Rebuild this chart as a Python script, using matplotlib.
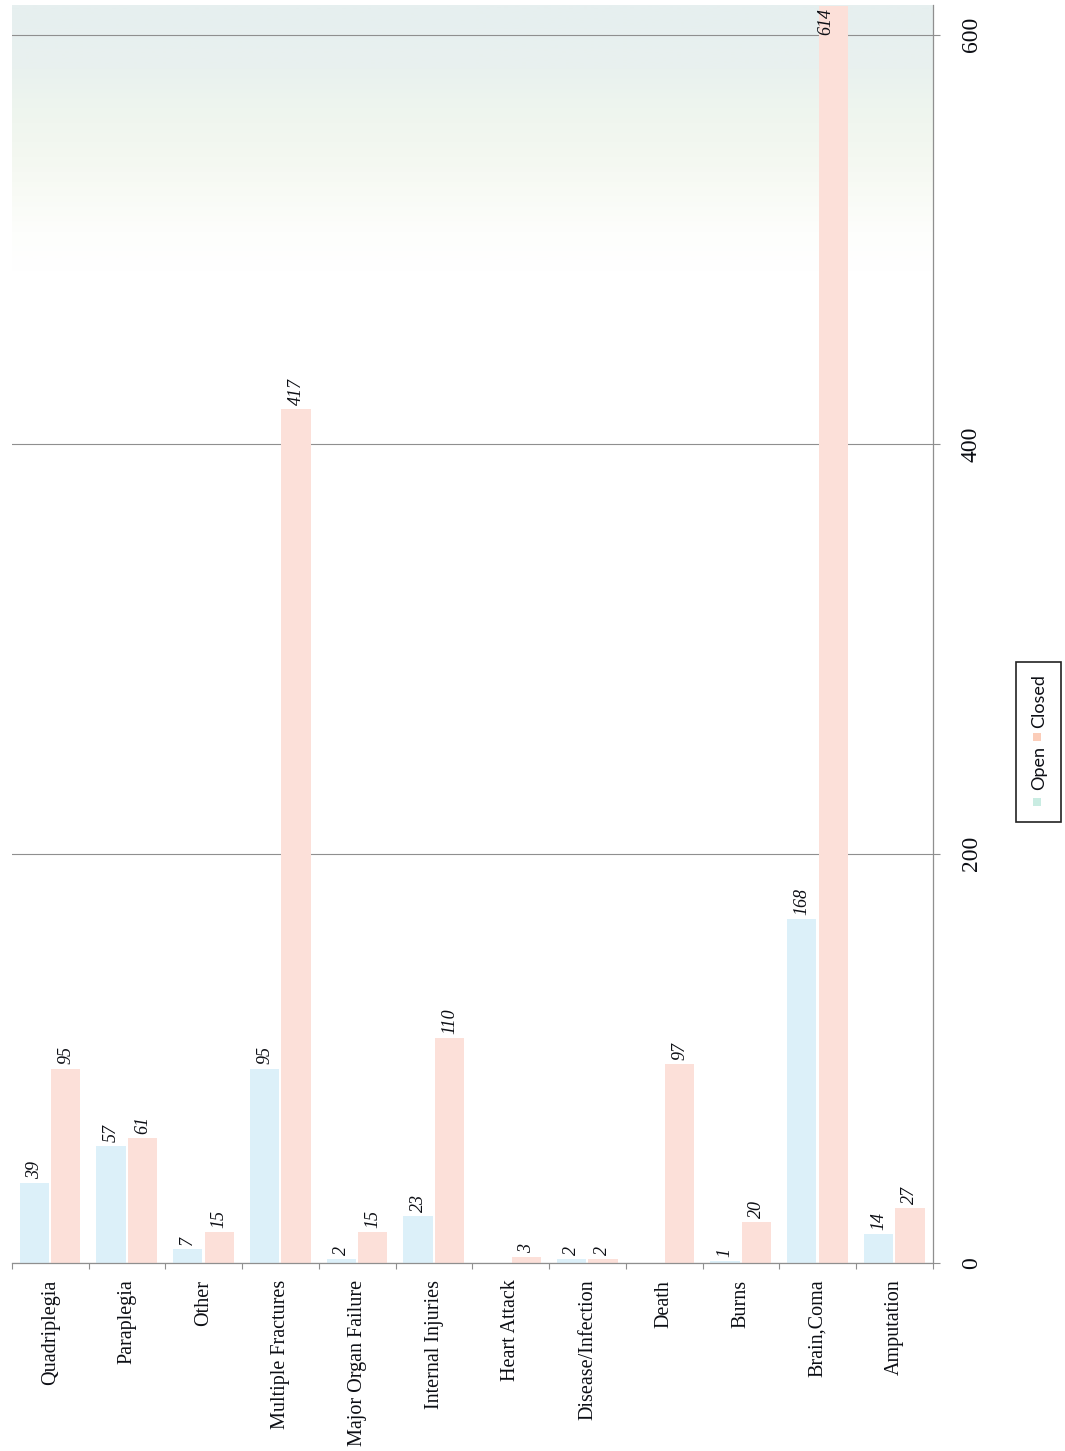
import matplotlib
matplotlib.use('Agg')
import matplotlib.pyplot as plt
import numpy as np
from matplotlib.patches import Rectangle
from matplotlib.colors import LinearSegmentedColormap

# ---- data ----
categories = ['Quadriplegia', 'Paraplegia', 'Other', 'Multiple Fractures',
              'Major Organ Failure', 'Internal Injuries', 'Heart Attack',
              'Disease/Infection', 'Death', 'Burns', 'Brain,Coma', 'Amputation']
open_vals = [39, 57, 7, 95, 2, 23, np.nan, 2, np.nan, 1, 168, 14]
closed_vals = [95, 61, 15, 417, 15, 110, 3, 2, 97, 20, 614, 27]
value_ticks = [0, 200, 400, 600]
series_names = ['Open', 'Closed']

# ---- styles ----
open_color = '#dcf0f9'
closed_color = '#fce0d9'
open_marker = '#c9ece2'
closed_marker = '#fbcdb9'
text_color = '#0c0e14'
grid_color = '#8f8f8f'

W, H = 1065, 1451
fig = plt.figure(figsize=(W / 100, H / 100), dpi=100)
fig.patch.set_facecolor('white')


def fx(px):
    return px / W


def fy(py):
    return 1 - py / H


ax_top, ax_bot, ax_left, ax_right = 5, 1263, 12, 933
ax = fig.add_axes([fx(ax_left), fy(ax_bot), (ax_right - ax_left) / W, (ax_bot - ax_top) / H])
ymax = 614.5

# faint background gradient at top of plot area
stops = [(0.0, '#e6efef'), (0.05, '#e9f1ef'), (0.08, '#eef5ee'),
         (0.12, '#f4f8f1'), (0.15, '#f9fbf6'), (0.18, '#fdfefc'), (0.21, '#ffffff'),
         (1.0, '#ffffff')]
cmap = LinearSegmentedColormap.from_list('bg', stops)
grad = np.linspace(0, 1, 1024).reshape(-1, 1)
ax.imshow(grad, extent=(-0.5, len(categories) - 0.5, 0, ymax), aspect='auto',
          origin='upper', cmap=cmap, zorder=0, interpolation='bilinear')
ax.set_xlim(-0.5, len(categories) - 0.5)
ax.set_ylim(0, ymax)

x = np.arange(len(categories))
bw = 0.38
off_open, off_closed = -0.21, 0.20
ax.bar(x + off_open, open_vals, width=bw, color=open_color, zorder=2, label=series_names[0])
ax.bar(x + off_closed, closed_vals, width=bw, color=closed_color, zorder=2, label=series_names[1])

# value labels
for xs, vals in ((x + off_open, open_vals), (x + off_closed, closed_vals)):
    for xi, v in zip(xs, vals):
        if v is None or (isinstance(v, float) and np.isnan(v)):
            continue
        if v > ymax - 15:
            ax.annotate(f'{int(v)}', xy=(xi - 0.1, ymax), xytext=(0, -2), textcoords='offset points',
                        rotation=90, ha='center', va='top', fontsize=13, fontstyle='italic',
                        family='Liberation Serif', color=text_color, zorder=3)
        else:
            ax.annotate(f'{int(v)}', xy=(xi, v), xytext=(0, 3), textcoords='offset points',
                        rotation=90, ha='center', va='bottom', fontsize=13, fontstyle='italic',
                        family='Liberation Serif', color=text_color, zorder=3)

# grid and axes
ax.set_yticks(value_ticks)
ax.yaxis.grid(True, color=grid_color, lw=0.8)
ax.set_axisbelow(True)
ax.yaxis.tick_right()
ax.tick_params(axis='y', which='major', length=5, color=grid_color, width=0.8, pad=15,
               labelrotation=90, labelsize=17, labelcolor=text_color)
for lbl in ax.get_yticklabels():
    lbl.set_family('Liberation Serif')
    lbl.set_va('center')

for s in ('top', 'left'):
    ax.spines[s].set_visible(False)
for s in ('right', 'bottom'):
    ax.spines[s].set_color(grid_color)
    ax.spines[s].set_linewidth(0.9)

ax.set_xticks(x)
ax.set_xticklabels(categories, rotation=90, fontsize=14.5, family='Liberation Serif',
                   color=text_color)
ax.set_xticks(np.arange(-0.5, len(categories), 1), minor=True)
ax.tick_params(axis='x', which='major', length=0, pad=12)
ax.tick_params(axis='x', which='minor', length=4.5, color=grid_color, width=0.8)

# manual rotated legend
fig.patches.append(Rectangle((fx(1016), fy(822)), (1061 - 1016) / W, (822 - 662) / H,
                             transform=fig.transFigure, fill=False, edgecolor='#222222',
                             lw=1.2, zorder=5))
fig.patches.append(Rectangle((fx(1033), fy(806)), 8 / W, 8 / H, transform=fig.transFigure,
                             facecolor=open_marker, edgecolor='none', zorder=5))
fig.patches.append(Rectangle((fx(1033), fy(741)), 8 / W, 8 / H, transform=fig.transFigure,
                             facecolor=closed_marker, edgecolor='none', zorder=5))
fig.text(fx(1039), fy(790), series_names[0], rotation=90, ha='center', va='bottom',
         fontsize=13, family='Lato', color=text_color)
fig.text(fx(1039), fy(728), series_names[1], rotation=90, ha='center', va='bottom',
         fontsize=13, family='Lato', color=text_color)

fig.savefig('out.png', dpi=100, facecolor='white')
